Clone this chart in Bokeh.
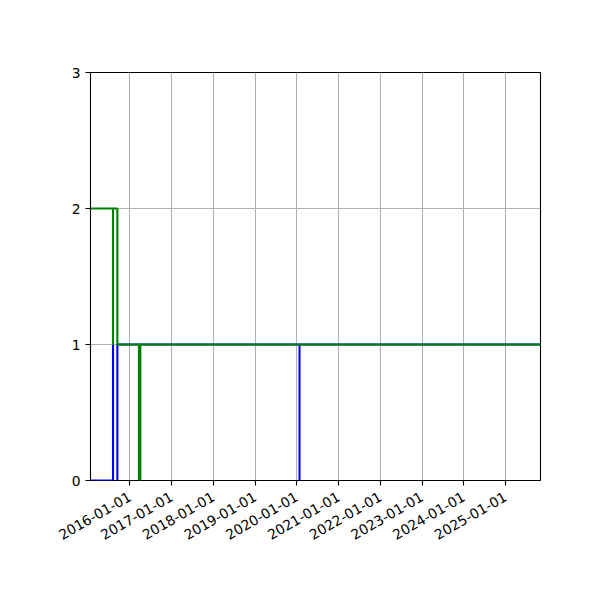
import math
import numpy as np
import pandas as pd
from bokeh.plotting import figure
from bokeh.models import Range1d, FixedTicker, DatetimeTickFormatter
from bokeh.embed import file_html
from bokeh.resources import INLINE

# datos (fechas repetidas = saltos verticales, NaN = hueco)
x_start = "2015-01-22"
x_end = "2025-11-03"

blue_dates = ["2015-01-22", "2015-08-07", "2015-08-07", "2015-08-07",
              "2015-09-14", "2015-09-14", "2020-01-25", "2020-01-25",
              "2020-01-25", "2025-11-03"]
blue_vals = [0, 0, 1, np.nan, 0, 1, 1, 0, 1, 1]

green_dates = ["2015-01-22", "2015-08-07", "2015-08-07", "2015-08-07",
               "2015-09-14", "2015-09-14", "2016-03-21", "2016-03-21",
               "2016-03-21", "2016-04-02", "2016-04-02", "2016-04-02",
               "2025-11-03"]
green_vals = [2, 2, 1, 2, 2, 1, 1, 0, 1, 1, 0, 1, 1]

year_ticks = ["2016-01-01", "2017-01-01", "2018-01-01", "2019-01-01", "2020-01-01",
              "2021-01-01", "2022-01-01", "2023-01-01", "2024-01-01", "2025-01-01"]
y_ticks = [0, 1, 2, 3]


def ms(fechas):
    return [pd.Timestamp(f).value / 1e6 for f in fechas]


p = figure(width=592, height=592, x_axis_type="datetime", toolbar_location=None,
           output_backend="svg", min_border_left=90, min_border_top=72,
           min_border_right=52, min_border_bottom=112)
p.x_range = Range1d(ms([x_start])[0], ms([x_end])[0])
p.y_range = Range1d(0, 3)

p.line(ms(blue_dates), blue_vals, line_color="#0000ff", line_width=2.1)
p.line(ms(green_dates), green_vals, line_color="#008000", line_width=2.1)

fmt = "%Y-%m-%d"
p.xaxis.ticker = FixedTicker(ticks=ms(year_ticks))
p.xaxis.formatter = DatetimeTickFormatter(
    microseconds=fmt, milliseconds=fmt, seconds=fmt, minsec=fmt, minutes=fmt,
    hourmin=fmt, hours=fmt, days=fmt, months=fmt, years=fmt)
p.xaxis.major_label_orientation = math.pi / 6
p.yaxis.ticker = FixedTicker(ticks=y_ticks)

for ax in [p.xaxis[0], p.yaxis[0]]:
    ax.major_label_text_font = "DejaVu Sans"
    ax.major_label_text_font_size = "13.9px"
    ax.major_label_text_color = "black"
    ax.axis_line_color = None
    ax.major_tick_line_color = "black"
    ax.major_tick_line_width = 1.1
    ax.major_tick_out = 5
    ax.major_tick_in = 0
    ax.minor_tick_line_color = None
    ax.major_label_standoff = 5
p.xaxis.major_label_standoff = 10

p.grid.grid_line_color = "#b0b0b0"
p.grid.grid_line_width = 1.1
p.grid.grid_line_alpha = 1.0
p.outline_line_color = "black"
p.outline_line_width = 1.1
p.outline_line_alpha = 1.0
p.background_fill_color = "white"
p.border_fill_color = "white"

open("out.html", "w").write(file_html(p, INLINE))
